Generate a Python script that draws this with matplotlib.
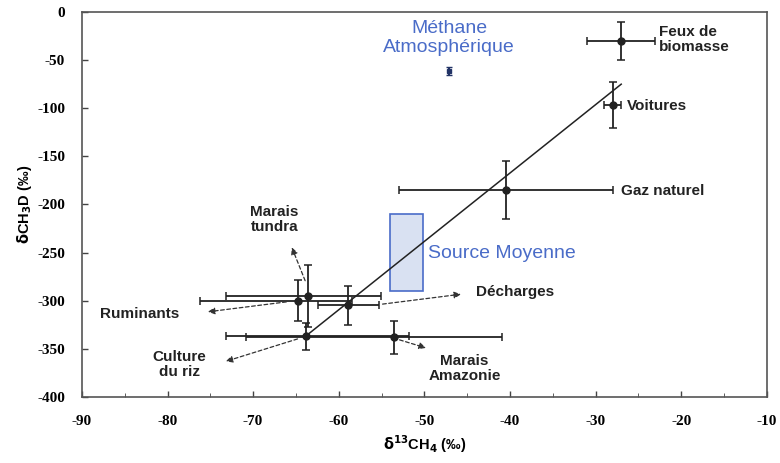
import matplotlib
matplotlib.use("Agg")
import matplotlib.pyplot as plt
from matplotlib.patches import Rectangle

plt.rcParams["axes.unicode_minus"] = False

# sources: d13C, dD, xerr (minus, plus), yerr
names = ["Feux de biomasse", "Voitures", "Gaz naturel", "Ruminants", "Marais tundra",
         "Décharges", "Culture du riz", "Marais Amazonie"]
d13c = [-27, -28, -40.5, -64.7, -63.6, -58.9, -63.8, -53.6]
dD = [-30, -97, -185, -300, -295, -305, -337, -338]
xerr_lo = [4, 1, 12.5, 11.5, 9.6, 3.5, 9.4, 17.2]
xerr_hi = [4, 1, 12.5, 6.3, 8.5, 3.6, 12.0, 12.7]
yerr = [20, 24, 30, 21, 32, 20, 14, 17]

atm_x, atm_y, atm_err = -47.1, -61, 4
fit_x = [-64, -27]
fit_y = [-338, -75]
box_x = [-54, -50.2]
box_y = [-290, -210]

xticks = list(range(-90, -9, 10))
yticks = list(range(-400, 1, 50))

blue = "#4a6cc8"

fig = plt.figure(figsize=(7.8, 4.63), dpi=100)
ax = fig.add_axes([0.105, 0.143, 0.878, 0.831])

ax.add_patch(Rectangle((box_x[0], box_y[0]), box_x[1] - box_x[0], box_y[1] - box_y[0],
                       facecolor="#d9e1f2", edgecolor=blue, lw=1.2, zorder=1))
ax.plot(fit_x, fit_y, color="#222222", lw=1.1, zorder=2)
ax.errorbar(d13c, dD, xerr=[xerr_lo, xerr_hi], yerr=yerr, fmt="o", color="#222222",
            ms=5, elinewidth=1.3, capsize=3, capthick=1.1, zorder=3)
ax.errorbar([atm_x], [atm_y], yerr=[atm_err], fmt="s", color="#223366", ms=3,
            elinewidth=1.5, capsize=2, zorder=3)

ax.text(-49.6, -251, "Source Moyenne", color=blue, fontsize=14, family="Liberation Sans",
        va="center", ha="left")
ax.text(-47.1, -27, "Méthane\nAtmosphérique", color=blue, fontsize=14,
        family="Liberation Sans", va="center", ha="center", linespacing=1.1)

lab = dict(fontsize=11, fontweight="bold", family="Liberation Sans", color="#222222")
ax.text(-22.6, -29, "Feux de\nbiomasse", ha="left", va="center", linespacing=1.1, **lab)
ax.text(-26.3, -98, "Voitures", ha="left", va="center", **lab)
ax.text(-27, -186, "Gaz naturel", ha="left", va="center", **lab)

arrow = dict(arrowstyle="-|>", linestyle=(0, (3, 2)), color="#333333", lw=0.9,
             mutation_scale=10)
ax.annotate("Marais\ntundra", xy=(-65.4, -240), xytext=(-67.5, -216), ha="center",
            va="center", linespacing=1.1, **lab)
ax.annotate("", xy=(-65.6, -242), xytext=(-63.8, -282), arrowprops=arrow)
ax.annotate("Ruminants", xy=(-75.8, -312), xytext=(-83.2, -314), ha="center",
            va="center", **lab)
ax.annotate("", xy=(-75.6, -312), xytext=(-65.8, -301), arrowprops=arrow)
ax.annotate("Décharges", xy=(-43.5, -293), xytext=(-39.4, -291), ha="center",
            va="center", **lab)
ax.annotate("", xy=(-45.4, -293), xytext=(-55.2, -304), arrowprops=arrow)
ax.annotate("Culture\ndu riz", xy=(-73.5, -364), xytext=(-78.6, -366), ha="center",
            va="center", linespacing=1.1, **lab)
ax.annotate("", xy=(-73.5, -364), xytext=(-64.5, -339), arrowprops=arrow)
ax.annotate("Marais\nAmazonie", xy=(-49.5, -350), xytext=(-45.3, -371), ha="center",
            va="center", linespacing=1.1, **lab)
ax.annotate("", xy=(-49.5, -350), xytext=(-53.2, -340), arrowprops=arrow)

ax.set_xlim(-90, -10)
ax.set_ylim(-400, 0)
tick_font = dict(family="Liberation Serif", fontweight="bold", fontsize=11)
ax.set_xticks(xticks)
ax.set_xticklabels([str(v) for v in xticks], **tick_font)
ax.set_xticks(range(-85, -10, 10), minor=True)
ax.set_yticks(yticks)
ax.set_yticklabels([str(v) for v in yticks], **tick_font)
ax.tick_params(direction="in", length=4, width=1, color="#444444")
ax.tick_params(axis="x", pad=13)
ax.tick_params(axis="y", pad=12)
ax.tick_params(which="minor", direction="in", length=3, color="#444444")
for s in ax.spines.values():
    s.set_color("#555555")
    s.set_linewidth(1.2)

ax.set_xlabel(r"$\mathbf{\delta}^{\mathbf{13}}$CH$_\mathbf{4}$ (‰)", fontsize=10.5,
              fontweight="bold", family="Liberation Sans")
ax.set_ylabel(r"$\mathbf{\delta}$CH$_\mathbf{3}$D (‰)", fontsize=10.5,
              fontweight="bold", family="Liberation Sans", labelpad=2)

fig.savefig("out.png", dpi=100)
